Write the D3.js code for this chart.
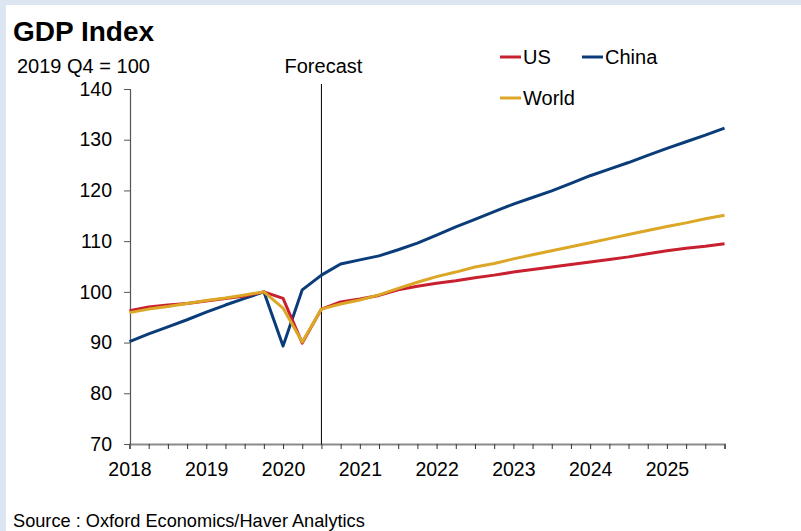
<!DOCTYPE html>
<html>
<head>
<meta charset="utf-8">
<script src="https://cdn.jsdelivr.net/npm/d3@7"></script>
<style>
  body { margin: 0; background: #fff; }
  #myPlot { width: 801px; height: 531px; }
  text { font-family: "Liberation Sans", Arial, sans-serif; fill: #000; }
</style>
</head>
<body>
<div id="myPlot"></div>
<script>
const quarters = [
    "2018Q1", "2018Q2", "2018Q3", "2018Q4",
    "2019Q1", "2019Q2", "2019Q3", "2019Q4",
    "2020Q1", "2020Q2", "2020Q3", "2020Q4",
    "2021Q1", "2021Q2", "2021Q3", "2021Q4",
    "2022Q1", "2022Q2", "2022Q3", "2022Q4",
    "2023Q1", "2023Q2", "2023Q3", "2023Q4",
    "2024Q1", "2024Q2", "2024Q3", "2024Q4",
    "2025Q1", "2025Q2", "2025Q3", "2025Q4"
]
const yearLabels = ["2018", "2019", "2020", "2021", "2022", "2023", "2024", "2025"]
const yTicks = [70, 80, 90, 100, 110, 120, 130, 140]
const forecastStart = "2020Q3"

const usValues = [
    96.3, 97.0, 97.4, 97.7, 98.2, 98.7, 99.2, 100.0,
    98.7, 89.9, 96.6, 98.0, 98.6, 99.3, 100.4, 101.1,
    101.7, 102.2, 102.8, 103.3, 103.9, 104.4, 104.9, 105.4,
    105.9, 106.4, 106.9, 107.5, 108.1, 108.6, 109.0, 109.5
]
const chinaValues = [
    90.2, 91.7, 93.1, 94.5, 96.0, 97.4, 98.7, 100.0,
    89.3, 100.4, 103.3, 105.5, 106.3, 107.1, 108.3, 109.6,
    111.2, 112.8, 114.3, 115.8, 117.3, 118.6, 119.9, 121.4,
    122.9, 124.2, 125.5, 126.9, 128.3, 129.6, 130.9, 132.3
]
const worldValues = [
    95.9, 96.6, 97.1, 97.7, 98.3, 98.8, 99.4, 100.0,
    96.8, 90.1, 96.6, 97.6, 98.4, 99.4, 100.7, 101.9,
    103.0, 103.9, 104.9, 105.6, 106.5, 107.3, 108.1, 108.9,
    109.7, 110.5, 111.3, 112.1, 112.9, 113.6, 114.4, 115.1
]

const seriesNames = ["US", "China", "World"]
const seriesColors = ["#c8202f", "#093c78", "#dca726"]

const width = 801
const height = 531

const svg = d3.select("#myPlot").append("svg")
    .attr("width", width)
    .attr("height", height)

// light blue frame on top and left
svg.append("rect").attr("width", width).attr("height", height).attr("fill", "#dce6f2")
svg.append("rect").attr("x", 6).attr("y", 5).attr("width", width - 6).attr("height", height - 5).attr("fill", "#fff")

const xScale = d3.scalePoint()
    .domain(quarters)
    .range([129.5, 724.5])

const yScale = d3.scaleLinear()
    .domain([70, 140])
    .range([444, 89])

// x axis
const xAxis = d3.axisBottom(xScale)
    .tickValues(quarters)
    .tickSize(5)
    .tickPadding(13)
    .tickFormat(q => q.endsWith("Q1") ? yearLabels[quarters.indexOf(q) / 4] : "")

const xG = svg.append("g")
    .attr("transform", "translate(0, 444)")
    .call(xAxis)
xG.select(".domain").attr("stroke", "#8a8a8a").attr("stroke-width", 2)
xG.selectAll(".tick line").attr("stroke", "#333")
xG.selectAll(".tick text")
    .attr("font-size", 19.5)
    .attr("font-family", "Liberation Sans, Arial, sans-serif")

// y axis
const yAxis = d3.axisLeft(yScale)
    .tickValues(yTicks)
    .tickSize(6)
    .tickPadding(12)

const yG = svg.append("g")
    .attr("transform", "translate(130, 0)")
    .call(yAxis)
yG.select(".domain").attr("stroke", "#555").attr("stroke-width", 1.2)
yG.selectAll(".tick line").attr("stroke", "#555")
yG.selectAll(".tick text")
    .attr("font-size", 19.5)
    .attr("font-family", "Liberation Sans, Arial, sans-serif")

// forecast marker
svg.append("line")
    .attr("x1", xScale(forecastStart)).attr("x2", xScale(forecastStart))
    .attr("y1", 84).attr("y2", 444)
    .attr("stroke", "#000")
    .attr("stroke-width", 1)

svg.append("text")
    .attr("x", xScale(forecastStart) + 2)
    .attr("y", 73)
    .attr("text-anchor", "middle")
    .attr("font-size", 20)
    .text("Forecast")

// lines
const line = d3.line()
    .x((d, i) => xScale(quarters[i]))
    .y(d => yScale(d))

const allSeries = [usValues, chinaValues, worldValues]
const drawOrder = [1, 0, 2]

drawOrder.forEach(k => {
    svg.append("path")
        .datum(allSeries[k])
        .attr("fill", "none")
        .attr("stroke", seriesColors[k])
        .attr("stroke-width", 3)
        .attr("stroke-linejoin", "round")
        .attr("d", line)
})

// titles
svg.append("text")
    .attr("x", 13)
    .attr("y", 41)
    .attr("font-size", 28)
    .attr("font-weight", "bold")
    .text("GDP Index")

svg.append("text")
    .attr("x", 17)
    .attr("y", 73)
    .attr("font-size", 20)
    .text("2019 Q4 = 100")

svg.append("text")
    .attr("x", 13)
    .attr("y", 527)
    .attr("font-size", 18.2)
    .text("Source : Oxford Economics/Haver Analytics")

// legend
const legendPos = [[500, 57], [582, 57], [500, 98]]
seriesNames.forEach((name, k) => {
    const [lx, ly] = legendPos[k]
    svg.append("line")
        .attr("x1", lx).attr("x2", lx + 21)
        .attr("y1", ly).attr("y2", ly)
        .attr("stroke", seriesColors[k])
        .attr("stroke-width", 3)
    svg.append("text")
        .attr("x", lx + 23)
        .attr("y", ly + 7)
        .attr("font-size", 20)
        .text(name)
})
</script>
</body>
</html>
